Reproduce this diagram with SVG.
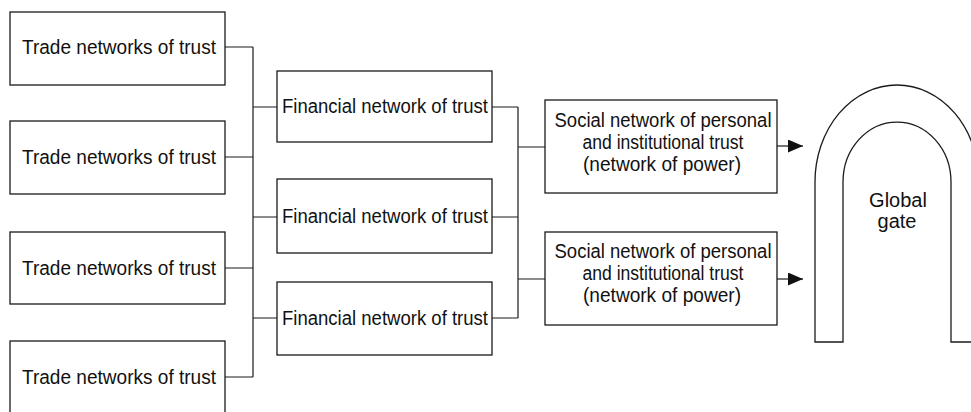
<svg xmlns="http://www.w3.org/2000/svg" width="971" height="412" viewBox="0 0 971 412">
  <style>
    .box { fill: #fff; stroke: #1a1a1a; stroke-width: 1.3; }
    .wire { fill: none; stroke: #1a1a1a; stroke-width: 1.2; }
    .lbl { font-family: "Liberation Sans", Arial, sans-serif; font-size: 20px; fill: #111; text-anchor: middle; }
    .gate { fill: none; stroke: #1a1a1a; stroke-width: 1.3; }
  </style>
  <defs>
    <marker id="arrow" viewBox="0 0 15 13" refX="15" refY="6.5" markerWidth="15" markerHeight="13" markerUnits="userSpaceOnUse" orient="auto">
      <path d="M0,0 L15,6.5 L0,13 Z" fill="#111"/>
    </marker>
  </defs>

  <rect width="971" height="412" fill="#fff"/>

  <!-- connectors -->
  <g id="connectors">
    <!-- trade networks feed the left bus -->
    <path class="wire" d="M225,47 H253 M225,157 H253 M225,268 H253 M225,377 H253 M253,47 V377"/>
    <!-- left bus to financial networks -->
    <path class="wire" d="M253,107 H277 M253,217 H277 M253,318 H277"/>
    <!-- financial networks feed the right bus -->
    <path class="wire" d="M492,107 H518 M492,217 H518 M492,318 H518 M518,107 V318"/>
    <!-- right bus to social networks -->
    <path class="wire" d="M518,147 H545 M518,279 H545"/>
    <!-- social networks to the global gate -->
    <path class="wire" d="M777,146 H803" marker-end="url(#arrow)"/>
    <path class="wire" d="M777,279 H803" marker-end="url(#arrow)"/>
  </g>

  <!-- trade networks -->
  <g id="trade1">
    <rect class="box" x="10" y="12" width="215" height="73"/>
    <text class="lbl" x="119" y="54" textLength="194" lengthAdjust="spacingAndGlyphs">Trade networks of trust</text>
  </g>
  <g id="trade2">
    <rect class="box" x="10" y="121" width="215" height="73"/>
    <text class="lbl" x="119" y="164" textLength="194" lengthAdjust="spacingAndGlyphs">Trade networks of trust</text>
  </g>
  <g id="trade3">
    <rect class="box" x="10" y="232" width="215" height="72"/>
    <text class="lbl" x="119" y="275" textLength="194" lengthAdjust="spacingAndGlyphs">Trade networks of trust</text>
  </g>
  <g id="trade4">
    <rect class="box" x="10" y="341" width="215" height="80"/>
    <text class="lbl" x="119" y="384" textLength="194" lengthAdjust="spacingAndGlyphs">Trade networks of trust</text>
  </g>

  <!-- financial networks -->
  <g id="financial1">
    <rect class="box" x="277" y="71" width="215" height="71"/>
    <text class="lbl" x="385" y="113" textLength="206" lengthAdjust="spacingAndGlyphs">Financial network of trust</text>
  </g>
  <g id="financial2">
    <rect class="box" x="277" y="179" width="215" height="74"/>
    <text class="lbl" x="385" y="223" textLength="206" lengthAdjust="spacingAndGlyphs">Financial network of trust</text>
  </g>
  <g id="financial3">
    <rect class="box" x="277" y="282" width="215" height="73"/>
    <text class="lbl" x="385" y="325" textLength="206" lengthAdjust="spacingAndGlyphs">Financial network of trust</text>
  </g>

  <!-- social networks -->
  <g id="social1">
    <rect class="box" x="545" y="100" width="232" height="93"/>
    <text class="lbl" x="663" y="127" textLength="217" lengthAdjust="spacingAndGlyphs">Social network of personal</text>
    <text class="lbl" x="663" y="149" textLength="161" lengthAdjust="spacingAndGlyphs">and institutional trust</text>
    <text class="lbl" x="662" y="171" textLength="158" lengthAdjust="spacingAndGlyphs">(network of power)</text>
  </g>
  <g id="social2">
    <rect class="box" x="545" y="232" width="232" height="93"/>
    <text class="lbl" x="663" y="258" textLength="217" lengthAdjust="spacingAndGlyphs">Social network of personal</text>
    <text class="lbl" x="663" y="280" textLength="161" lengthAdjust="spacingAndGlyphs">and institutional trust</text>
    <text class="lbl" x="662" y="302" textLength="158" lengthAdjust="spacingAndGlyphs">(network of power)</text>
  </g>

  <!-- global gate: arch with its right leg running off the edge -->
  <g id="gate">
    <path class="gate" d="M843,342 V182 A54,60 0 0 1 951,182 V342 H979 V182 A82,97 0 0 0 815,182 V342 Z"/>
    <text class="lbl" x="898" y="207" font-size="18">Global</text>
    <text class="lbl" x="897" y="228" font-size="18">gate</text>
  </g>
</svg>
